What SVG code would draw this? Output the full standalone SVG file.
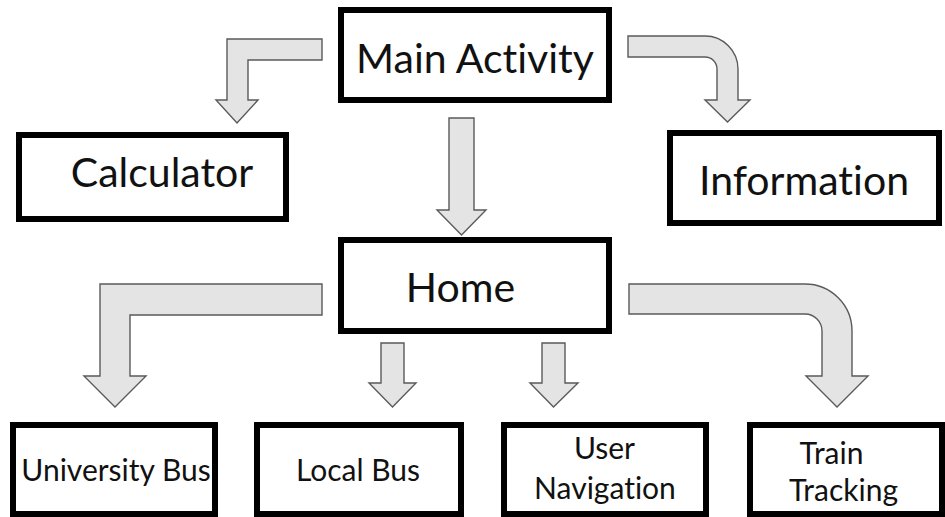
<svg xmlns="http://www.w3.org/2000/svg" width="945" height="517" viewBox="0 0 945 517">
  <style>
    .box { fill: #ffffff; stroke: #000000; stroke-width: 6; }
    .lbl { font-family: Lato, "Open Sans", "Liberation Sans", sans-serif; fill: #111111; text-anchor: middle; font-variant-ligatures: none; }
    .big { font-size: 41px; }
    .small { font-size: 30px; }
    .arrow { fill: #e4e4e4; stroke: #5a5a5a; stroke-width: 1.4; stroke-linejoin: miter; }
  </style>
  <rect width="945" height="517" fill="#ffffff"/>

  <!-- block arrows -->
  <g id="connectors">
    <!-- Main Activity to Calculator -->
    <path class="arrow" d="M322,39 L227,39 L227,100 L216,100 L237,123 L258,100 L248,100 L248,60 L322,60 Z"/>
    <!-- Main Activity to Home -->
    <path class="arrow" d="M449,118 L474,118 L474,210 L486,210 L461.5,235 L437,210 L449,210 Z"/>
    <!-- Main Activity to Information -->
    <path class="arrow" d="M628,36 L705,36 A33,33 0 0 1 738,69 L738,100 L750,100 L727.5,122 L705,100 L717,100 L717,69 A12,12 0 0 0 705,57 L628,57 Z"/>
    <!-- Home to University Bus -->
    <path class="arrow" d="M322,284 L100,284 L100,376 L84,376 L115,407 L146,376 L130,376 L130,315 L322,315 Z"/>
    <!-- Home to Local Bus -->
    <path class="arrow" d="M381,343 L404,343 L404,383 L416,383 L392.5,407 L369,383 L381,383 Z"/>
    <!-- Home to User Navigation -->
    <path class="arrow" d="M542,343 L565,343 L565,383 L578,383 L553.5,407 L530,383 L542,383 Z"/>
    <!-- Home to Train Tracking -->
    <path class="arrow" d="M629,284 L805,284 A47,47 0 0 1 852,331 L852,376 L868,376 L837,407 L806,376 L822,376 L822,331 A17,17 0 0 0 805,314 L629,314 Z"/>
  </g>

  <g id="main-activity">
    <rect class="box" x="341" y="10" width="268" height="90"/>
    <text class="lbl big" x="475" y="73">Main Activity</text>
  </g>

  <g id="calculator">
    <rect class="box" x="19" y="135" width="267" height="84"/>
    <text class="lbl big" x="162" y="187">Calculator</text>
  </g>

  <g id="information">
    <rect class="box" x="670" y="133" width="269" height="90"/>
    <text class="lbl big" x="804" y="195">Information</text>
  </g>

  <g id="home">
    <rect class="box" x="341" y="240" width="268" height="91"/>
    <text class="lbl big" x="460.5" y="302">Home</text>
  </g>

  <g id="university-bus">
    <rect class="box" x="13" y="425" width="202" height="89"/>
    <text class="lbl small" x="116" y="481">University Bus</text>
  </g>

  <g id="local-bus">
    <rect class="box" x="257" y="425" width="204" height="89"/>
    <text class="lbl small" x="358" y="481">Local Bus</text>
  </g>

  <g id="user-navigation">
    <rect class="box" x="504" y="425" width="202" height="89"/>
    <text class="lbl small" x="604.5" y="459">User</text>
    <text class="lbl small" x="605" y="499">Navigation</text>
  </g>

  <g id="train-tracking">
    <rect class="box" x="750" y="425" width="192" height="89"/>
    <text class="lbl small" x="831.5" y="464">Train</text>
    <text class="lbl small" x="843.5" y="501">Tracking</text>
  </g>
</svg>
